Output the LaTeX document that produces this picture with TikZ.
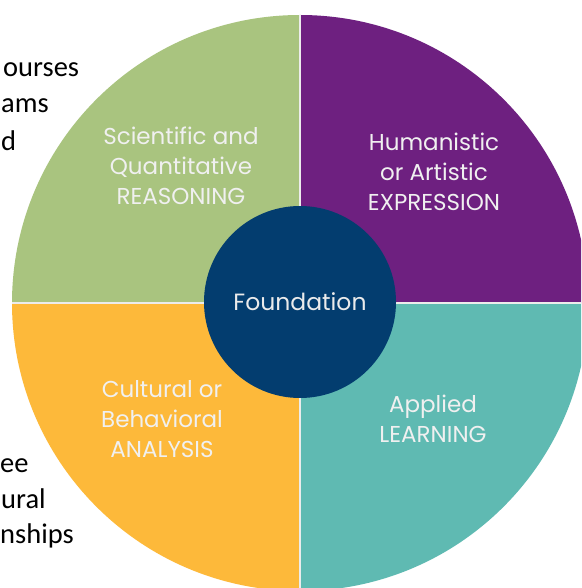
\documentclass[tikz,border=0pt]{standalone}
\usepackage{fontspec}
\setmainfont{Poppins}
\newfontfamily\sidefont{Carlito}
\usetikzlibrary{positioning}
\definecolor{sciGreen}{HTML}{A9C47F}
\definecolor{humPurple}{HTML}{6E2080}
\definecolor{culOrange}{HTML}{FDB93A}
\definecolor{appTeal}{HTML}{5FBAB2}
\definecolor{foundNavy}{HTML}{033D6F}
\tikzstyle{quadlabel}=[align=center,text=white!94!black,font=\fontsize{23}{30}\selectfont,inner sep=0pt]
\tikzstyle{sidetext}=[anchor=base west,font=\sidefont\fontsize{28.5}{34}\selectfont,inner sep=0pt]
\tikzstyle{seam}=[white!85!gray,line width=1.2pt]

\begin{document}
\begin{tikzpicture}[x=1pt,y=-1pt]

  \useasboundingbox (0,0) rectangle (581,588);
  \clip (0,0) rectangle (581,588);
  \fill[white] (0,0) rectangle (581,588);

  \def\R{288};
  \coordinate (c) at (300,303);
  % the four quarters
  \foreach \col/\a/\b in {sciGreen/270/180, humPurple/270/360, appTeal/0/90, culOrange/90/180}
      \fill[\col] (c) -- ++(\a:\R) arc (\a:\b:\R) -- cycle;
  \foreach \ang in {0,90,180,270}
      \draw[seam] (c) -- ++(\ang:\R);

  \foreach \pos/\name/\txt in {{(181,166)/sci/{Scientific and\\Quantitative\\REASONING}},
                               {(434,172)/hum/{Humanistic\\or Artistic\\EXPRESSION}},
                               {(162,419)/cul/{Cultural or\\Behavioral\\ANALYSIS}},
                               {(433,419)/app/{Applied\\LEARNING}}}
      \node[quadlabel] (\name) at \pos {\txt};

  \node[circle,fill=foundNavy,minimum size=192pt,inner sep=0pt,
        text=white!92!black,font=\fontsize{23.5}{24}\selectfont] (found) at (300,302) {Foundation};

  % cut-off side text
  \node[sidetext] (t1) at (3,77) {ourses};
  \node[sidetext] (t2) at (1,113) {ams};
  \node[sidetext] (t3) at (1,150) {d};
  \node[sidetext] (b1) at (0,472) {ee};
  \node[sidetext] (b2) at (1,508) {ural};
  \node[sidetext] (b3) at (0,543) {nships};

\end{tikzpicture}
\end{document}
